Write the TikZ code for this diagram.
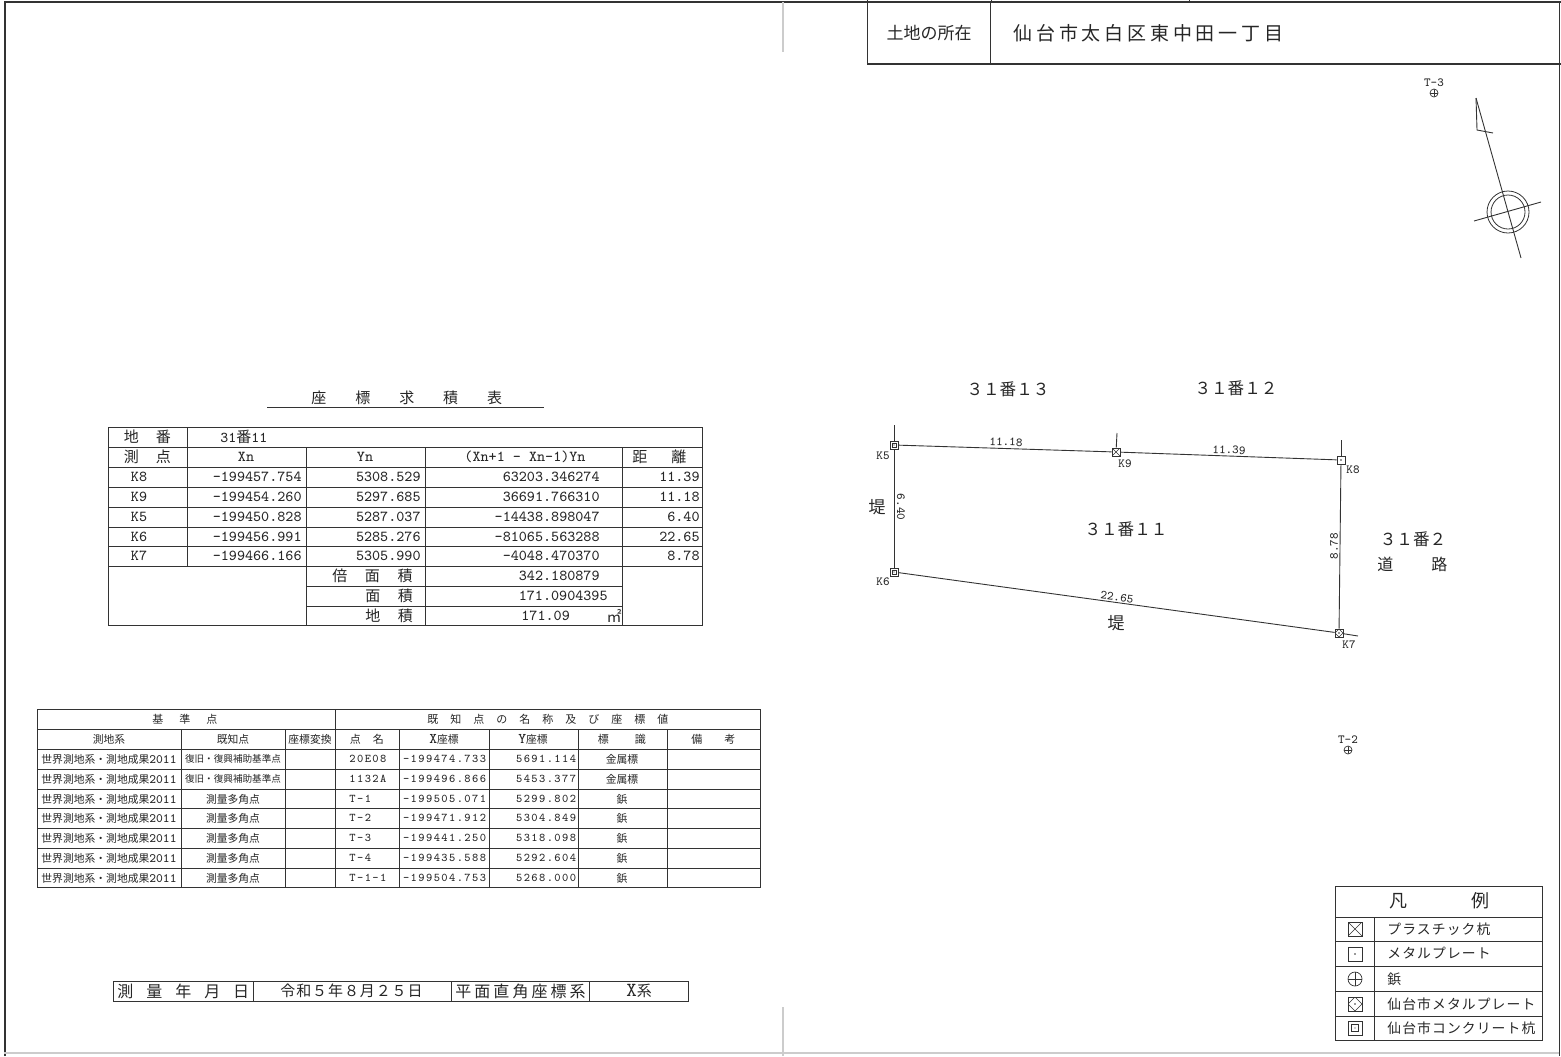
\documentclass[tikz,border=0pt]{standalone}
\usepackage{fontspec}
\setmainfont{Noto Sans CJK JP}
\newfontfamily\smallmono{Latin Modern Mono}[LetterSpace=12]
\newcommand{\jpsp}[1]{\addfontfeature{LetterSpace=#1}}
\newcommand{\numtt}[1]{{\ttfamily #1}}
\newcommand{\numsz}[2]{{\ttfamily\fontsize{#1}{7}\selectfont #2}}
\usetikzlibrary{shapes}
\tikzset{
  rulerline/.style={line width=0.45pt,black!80},
  frameline/.style={line width=1pt,black!80},
  foldline/.style={line width=0.7pt,black!20},
  cell/.style={inner sep=0pt,text=black!85,font=\fontsize{7.5}{9}\selectfont},
  numcell/.style={inner sep=0pt,text=black!85,font=\ttfamily\fontsize{7.6}{9}\selectfont},
  smallcell/.style={inner sep=0pt,text=black!85,font=\fontsize{5.4}{7}\selectfont},
  smallnum/.style={inner sep=0pt,text=black!85,font=\smallmono\fontsize{5.9}{7}\selectfont},
  ptlabel/.style={inner sep=0pt,text=black!85,font=\ttfamily\fontsize{6.2}{7}\selectfont},
  plotlabel/.style={inner sep=0pt,text=black!85,font=\fontsize{8.3}{10}\selectfont},
  legendtext/.style={inner sep=0pt,anchor=west,text=black!85,font=\fontsize{6.9}{8}\selectfont},
  ptbox/.style={draw=black!80,line width=0.45pt,rectangle,inner sep=0pt,minimum size=#1 pt,fill=white},
  ptplastic/.style={ptbox=#1,path picture={\draw[line width=0.3pt,shift={(path picture bounding box.center)}] (-#1,-#1) -- (#1,#1) (-#1,#1) -- (#1,-#1);}},
  ptplate/.style={ptbox=#1,path picture={\fill[black!80,shift={(path picture bounding box.center)}] (0,0) circle (0.8);}},
  ptcity/.style={ptbox=#1,path picture={\draw[line width=0.3pt,shift={(path picture bounding box.center)}] (-#1,0) -- (0,#1) -- (#1,0) -- (0,-#1) -- cycle; \fill[black!80,shift={(path picture bounding box.center)}] (0,0) circle (0.9);}},
  ptconc/.style={ptbox=#1,path picture={\draw[line width=0.3pt,shift={(path picture bounding box.center)}] (-0.5*#1,-0.5*#1) rectangle (0.5*#1,0.5*#1); \fill[black!80,shift={(path picture bounding box.center)}] (0,0) circle (0.7);}},
  ptnail/.style={draw=black!80,line width=0.35pt,circle,inner sep=0pt,minimum size=#1 pt,path picture={\draw[line width=0.3pt,shift={(path picture bounding box.center)}] (-#1,0) -- (#1,0) (0,-#1) -- (0,#1);}},
}
\begin{document}
\begin{tikzpicture}[x=0.5pt,y=-0.5pt]
\useasboundingbox (0,0) rectangle (1561,1056);
\draw [frameline] (4.5,1056) -- (4.5,2) -- (1561,2);
\draw [rulerline] (1559,2) -- (1559,1056);
\draw [foldline] (783,2) -- (783,52);
\draw [foldline] (783,1007) -- (783,1056);
\draw [foldline] (4,1053) -- (1559,1053);
\draw [rulerline] (867,0) -- (867,2) (991,0) -- (991,2) (1189,0) -- (1189,2);

\draw [rulerline] (867,2) -- (867,64) (990.6,2) -- (990.6,64);
\draw [frameline] (867,64) -- (1561,64);
\node (lotcap) at (929,33.5)[cell,font=\fontsize{8.5}{10}\selectfont] {土地の所在};
\node (lotname) at (1013,33.5)[cell,anchor=west,font=\fontsize{9.5}{11}\selectfont\jpsp{20}] {仙台市太白区東中田一丁目};

\node (tabtitle) at (311,397.5)[cell,anchor=west,font=\fontsize{7.5}{9}\selectfont\jpsp{193}] {座標求積表};
\coordinate (tabruleL) at (267,407);
\coordinate (tabruleR) at (544,407);
\draw [rulerline] (tabruleL) -- (tabruleR);

\draw [rulerline] (108,427) rectangle (702.6,625.6);
\foreach \y in {447,467,487,507,527,546,566} {\draw [rulerline] (108,\y) -- (702.6,\y);}
\foreach \y in {586,606} {\draw [rulerline] (306,\y) -- (622.6,\y);}
\draw [rulerline] (187,427) -- (187,566);
\foreach \x in {306,425,622.6} {\draw [rulerline] (\x,447) -- (\x,625.6);}

\node (chiban) at (123.5,437)[cell,anchor=west,font=\fontsize{7.5}{9}\selectfont\jpsp{113}] {地番};
\node (chibanval) at (220,437)[cell,anchor=west] {\numtt{31}番\numtt{11}};
\node (sokuten) at (123.5,457)[cell,anchor=west,font=\fontsize{7.5}{9}\selectfont\jpsp{113}] {測点};
\node (colx) at (246,457)[numcell] {Xn};
\node (coly) at (365,457)[numcell] {Yn};
\node (colf) at (525,457)[numcell] {(Xn+1 - Xn-1)Yn};
\node (kyori) at (632,457)[cell,anchor=west,font=\fontsize{7.5}{9}\selectfont\jpsp{160}] {距離};
\foreach \r/\y/\k/\xn/\yn/\sn/\dn in {
  1/477/K8/-199457.754/5308.529/63203.346274/11.39,
  2/497/K9/-199454.260/5297.685/36691.766310/11.18,
  3/517/K5/-199450.828/5287.037/-14438.898047/6.40,
  4/536.5/K6/-199456.991/5285.276/-81065.563288/22.65,
  5/556/K7/-199466.166/5305.990/-4048.470370/8.78} {
  \node (rk\r) at (139,\y)[numcell] {\k};
  \node (rx\r) at (302,\y)[numcell,anchor=east] {\xn};
  \node (ry\r) at (421,\y)[numcell,anchor=east] {\yn};
  \node (rs\r) at (600,\y)[numcell,anchor=east] {\sn};
  \node (rd\r) at (700,\y)[numcell,anchor=east] {\dn};
}
\node (baimen) at (332,576)[cell,anchor=west,font=\fontsize{7.5}{9}\selectfont\jpsp{117}] {倍面積};
\node (baival) at (600,576)[numcell,anchor=east] {342.180879};
\node (menseki) at (365,596)[cell,anchor=west,font=\fontsize{7.5}{9}\selectfont\jpsp{117}] {面積};
\node (menval) at (608,596)[numcell,anchor=east] {171.0904395};
\node (chiseki) at (365,616)[cell,anchor=west,font=\fontsize{7.5}{9}\selectfont\jpsp{117}] {地積};
\node (chival) at (521,616)[numcell,anchor=west] {171.09};
\node (chiunit) at (622,616)[cell,anchor=east] {㎡};

\draw [rulerline] (37,709) rectangle (760.6,887.6);
\foreach \y in {729,749,769,789,808,828,848,868} {\draw [rulerline] (37,\y) -- (760.6,\y);}
\draw [rulerline] (335,709) -- (335,887.6);
\foreach \x in {181,285,399,489,578,667} {\draw [rulerline] (\x,729) -- (\x,887.6);}
\node (kijun) at (152,719)[smallcell,anchor=west,font=\fontsize{5.5}{7}\selectfont\jpsp{145}] {基準点};
\node (kichi) at (427,719)[smallcell,anchor=west,font=\fontsize{5.5}{7}\selectfont\jpsp{109}] {既知点の名称及び座標値};
\node (hdsys) at (109,739)[smallcell] {測地系};
\node (hdkno) at (233,739)[smallcell] {既知点};
\node (hdcnv) at (310,739)[smallcell] {座標変換};
\node (hdnam) at (349.5,739)[smallcell,anchor=west,font=\fontsize{5.5}{7}\selectfont\jpsp{109}] {点名};
\node (hdxc) at (444,739)[smallcell] {\numsz{7.4}{X}座標};
\node (hdyc) at (533,739)[smallcell] {\numsz{7.4}{Y}座標};
\node (hdmk) at (597.5,739)[smallcell,anchor=west,font=\fontsize{5.5}{7}\selectfont\jpsp{236}] {標識};
\node (hdrm) at (691,739)[smallcell,anchor=west,font=\fontsize{5.5}{7}\selectfont\jpsp{200}] {備考};
\foreach \r/\y/\nm/\xv/\yv/\mk in {
  1/759/20E08/-199474.733/5691.114/金属標,
  2/779/1132A/-199496.866/5453.377/金属標,
  3/799/T-1/-199505.071/5299.802/鋲,
  4/818/T-2/-199471.912/5304.849/鋲,
  5/838/T-3/-199441.250/5318.098/鋲,
  6/858/T-4/-199435.588/5292.604/鋲,
  7/878/T-1-1/-199504.753/5268.000/鋲} {
  \node (bs\r) at (41,\y)[smallcell,anchor=west] {世界測地系・測地成果\numsz{6.4}{2011}};
  \node (bn\r) at (349,\y)[smallnum,anchor=west] {\nm};
  \node (bx\r) at (486.5,\y)[smallnum,anchor=east] {\xv};
  \node (by\r) at (576.5,\y)[smallnum,anchor=east] {\yv};
  \node (bm\r) at (622,\y)[smallcell] {\mk};
}
\foreach \r/\y in {1/759,2/779} {\node (bk\r) at (233,\y)[smallcell,font=\fontsize{4.8}{6}\selectfont] {復旧・復興補助基準点};}
\foreach \r/\y in {3/799,4/818,5/838,6/858,7/878} {\node (bk\r) at (233,\y)[smallcell] {測量多角点};}

\draw [rulerline] (113,981) rectangle (688.6,1001);
\foreach \x in {253,451,589} {\draw [rulerline] (\x,981) -- (\x,1001);}
\node (sdate) at (117,991)[cell,anchor=west,font=\fontsize{8}{9}\selectfont\jpsp{81}] {測量年月日};
\node (sdateval) at (280,991)[cell,anchor=west,font=\fontsize{7.5}{9}\selectfont\jpsp{6}] {令和５年８月２５日};
\node (ssys) at (455,991)[cell,anchor=west,font=\fontsize{8}{9}\selectfont\jpsp{19}] {平面直角座標系};
\node (ssysval) at (639,991)[cell] {\numsz{10}{X}系};

\node (T3text) at (1434,83)[ptlabel] {T-3};
\node (T3) at (1434,93)[ptnail=4] {};
\node (T2text) at (1348,740)[ptlabel] {T-2};
\node (T2) at (1348,750)[ptnail=4] {};

\coordinate (ntip) at (1476,98);
\coordinate (nend) at (1521,258);
\coordinate (nflagA) at (1477,130);
\coordinate (nflagB) at (1493,133);
\coordinate (ncrossL) at (1474,221);
\coordinate (ncrossR) at (1541,202);
\node (ncircO) at (1508,212)[draw=black!80,line width=0.4pt,circle,inner sep=0pt,minimum size=21pt] {};
\node (ncircI) at (1508,212)[draw=black!80,line width=0.4pt,circle,inner sep=0pt,minimum size=17pt] {};
\draw [rulerline] (ntip) -- (nend);
\draw [rulerline] (ntip) -- (nflagA) -- (nflagB);
\draw [rulerline] (ncrossL) -- (ncrossR);

\node (K5) at (894,445)[ptconc=4] {};
\node (K9) at (1116,452)[ptplastic=4] {};
\node (K8) at (1341,460)[ptplate=4] {};
\node (K7) at (1339,633)[ptcity=4] {};
\node (K6) at (894,572)[ptconc=4] {};
\coordinate (K5up) at (894,425);
\coordinate (K9up) at (1117,433);
\coordinate (K8up) at (1341,440);
\coordinate (K7ext) at (1358,636);
\draw [rulerline] (K5) -- (K9);
\draw [rulerline] (K9) -- (K8);
\draw [rulerline] (K8) -- (K7);
\draw [rulerline] (K7) -- (K6);
\draw [rulerline] (K6) -- (K5);
\draw [rulerline] (K5) -- (K5up);
\draw [rulerline] (K9) -- (K9up);
\draw [rulerline] (K8) -- (K8up);
\draw [rulerline] (K7) -- (K7ext);
\node (K5text) at (883,456)[ptlabel] {K5};
\node (K9text) at (1125,464)[ptlabel] {K9};
\node (K8text) at (1353,470)[ptlabel] {K8};
\node (K7text) at (1349,645)[ptlabel] {K7};
\node (K6text) at (883,582)[ptlabel] {K6};
\node (dist59) at (1006,442)[ptlabel,rotate=-2] {11.18};
\node (dist98) at (1229,450)[ptlabel,rotate=-2] {11.39};
\node (dist67) at (1117,597)[ptlabel,rotate=-8] {22.65};
\node (dist56) at (901,507)[ptlabel,rotate=-90] {6.40};
\node (dist87) at (1334,546)[ptlabel,rotate=90] {8.78};
\node (lot13) at (1008,389.5)[plotlabel] {３１番１３};
\node (lot12) at (1236,388)[plotlabel] {３１番１２};
\node (lot11) at (1126,529)[plotlabel] {３１番１１};
\node (lot2) at (1413,539)[plotlabel] {３１番２};
\node (road) at (1377,564.5)[plotlabel,anchor=west,font=\fontsize{8}{10}\selectfont\jpsp{237}] {道路};
\node (bankW) at (877,507.5)[plotlabel,font=\fontsize{8.5}{10}\selectfont] {堤};
\node (bankS) at (1116,623.5)[plotlabel,font=\fontsize{8.5}{10}\selectfont] {堤};

\draw [rulerline] (1335,886) rectangle (1542.6,1040);
\foreach \y in {917,941,966,991,1016} {\draw [rulerline] (1335,\y) -- (1542.6,\y);}
\draw [rulerline] (1374,917) -- (1374,1040);
\node (legtitle) at (1389,901)[plotlabel,anchor=west,font=\fontsize{9}{11}\selectfont\jpsp{355}] {凡例};
\node (legA) at (1355,929)[ptplastic=7] {};
\node (legB) at (1355,954)[ptplate=7] {};
\node (legC) at (1355,979)[ptnail=7] {};
\node (legD) at (1355,1004)[ptcity=7] {};
\node (legE) at (1355,1028)[ptconc=7] {};
\node (legAt) at (1387,929)[legendtext,font=\fontsize{6.9}{8}\selectfont\jpsp{8}] {プラスチック杭};
\node (legBt) at (1387,953)[legendtext,font=\fontsize{6.9}{8}\selectfont\jpsp{8}] {メタルプレート};
\node (legCt) at (1387,979)[legendtext] {鋲};
\node (legDt) at (1387,1004)[legendtext,font=\fontsize{6.9}{8}\selectfont\jpsp{8}] {仙台市メタルプレート};
\node (legEt) at (1387,1028)[legendtext,font=\fontsize{6.9}{8}\selectfont\jpsp{8}] {仙台市コンクリート杭};
\end{tikzpicture}
\end{document}
